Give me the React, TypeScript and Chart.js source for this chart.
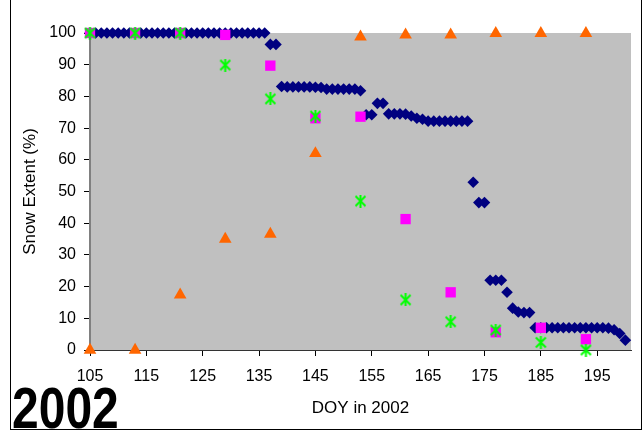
import React, { useEffect, useRef } from 'react';
import { Chart, registerables } from 'chart.js';

Chart.register(...registerables);

// ---- Data ----
const dailyDays = [
  105, 106, 107, 108, 109, 110, 111, 112, 113, 114, 115, 116, 117, 118, 119, 120,
  121, 122, 123, 124, 125, 126, 127, 128, 129, 130, 131, 132, 133, 134, 135, 136,
  137, 138, 139, 140, 141, 142, 143, 144, 145, 146, 147, 148, 149, 150, 151, 152,
  153, 154, 155, 156, 157, 158, 159, 160, 161, 162, 163, 164, 165, 166, 167, 168,
  169, 170, 171, 172, 173, 174, 175, 176, 177, 178, 179, 180, 181, 182, 183, 184,
  185, 186, 187, 188, 189, 190, 191, 192, 193, 194, 195, 196, 197, 198, 199, 200,
];
const dailyExtent = [
  100, 100, 100, 100, 100, 100, 100, 100, 100, 100, 100, 100, 100, 100, 100, 100,
  100, 100, 100, 100, 100, 100, 100, 100, 100, 100, 100, 100, 100, 100, 100, 100,
  96.4, 96.4, 83.1, 83, 83, 83, 83, 83, 82.9, 82.8, 82.3, 82.3, 82.3, 82.3, 82.3, 82.3,
  81.8, 74.2, 74.2, 77.8, 77.8, 74.5, 74.5, 74.5, 74.4, 73.8, 73.1, 72.8, 72.2, 72.2, 72.2, 72.2,
  72.2, 72.2, 72.2, 72.2, 52.9, 46.5, 46.5, 22, 22, 22, 18.2, 13.2, 12, 11.8, 11.8, 7,
  7, 7, 7, 7, 7, 7, 7, 7, 7, 7, 7, 7, 6.9, 6.4, 5.2, 3.1,
];

const sampleDays = [105, 113, 121, 129, 137, 145, 153, 161, 169, 177, 185, 193];
const squareExtent = [100, 100, 100, 99.4, 89.7, 73.1, 73.6, 41.3, 18.2, 5.6, 7.0, 3.4];
const asteriskExtent = [100, 100, 100, 89.9, 79.2, 73.8, 47.0, 15.8, 8.9, 6.3, 2.4, 0];
const triangleExtent = [0, 0, 17.4, 35, 36.6, 62, 98.8, 99.4, 99.4, 99.9, 99.9, 99.9];

const xTickValues = [105, 115, 125, 135, 145, 155, 165, 175, 185, 195];
const xMin = 105;
const xMax = 201;
const yMin = 0;
const yMax = 100;

const FONT = 'Liberation Sans, Arial, sans-serif';

function makeAsterisk(): HTMLCanvasElement {
  const c = document.createElement('canvas');
  c.width = 13;
  c.height = 13;
  const g = c.getContext('2d')!;
  g.strokeStyle = '#00FF00';
  g.lineWidth = 2;
  g.beginPath();
  g.moveTo(1.5, 1.5);
  g.lineTo(11.5, 11.5);
  g.moveTo(11.5, 1.5);
  g.lineTo(1.5, 11.5);
  g.moveTo(6.5, 0);
  g.lineTo(6.5, 13);
  g.stroke();
  return c;
}

const plotBg = {
  id: 'plotBg',
  beforeDraw(chart: any) {
    const { ctx, chartArea: a } = chart;
    ctx.save();
    ctx.fillStyle = '#C0C0C0';
    ctx.fillRect(a.left, a.top, a.right - a.left, a.bottom - a.top);
    ctx.restore();
  },
};

function toPoints(xs: number[], ys: number[]) {
  return xs.map((x, i) => ({ x, y: ys[i] }));
}

export default function App() {
  const ref = useRef<HTMLCanvasElement | null>(null);

  useEffect(() => {
    if (!ref.current) return;
    const asterisk = makeAsterisk();
    const chart = new Chart(ref.current, {
      type: 'scatter',
      data: {
        datasets: [
          {
            label: 'asterisk',
            data: toPoints(sampleDays, asteriskExtent),
            pointStyle: asterisk as any,
            pointRadius: 6,
            clip: false as any,
          },
          {
            label: 'square',
            data: toPoints(sampleDays, squareExtent),
            pointStyle: 'rect',
            pointRadius: 7.3,
            backgroundColor: '#FF00FF',
            borderColor: '#FF00FF',
            borderWidth: 0,
            clip: false as any,
          },
          {
            label: 'triangle',
            data: toPoints(sampleDays, triangleExtent),
            pointStyle: 'triangle',
            pointRadius: 7.3,
            backgroundColor: '#FF6600',
            borderColor: '#FF6600',
            borderWidth: 0,
            clip: false as any,
          },
          {
            label: 'daily',
            data: toPoints(dailyDays, dailyExtent),
            pointStyle: 'rectRot',
            pointRadius: 5.8,
            backgroundColor: '#000080',
            borderColor: '#000080',
            borderWidth: 0,
            clip: false as any,
          },
        ],
      },
      options: {
        responsive: false,
        animation: false,
        events: [],
        layout: { padding: { left: 0, right: 13, top: 33, bottom: 0 } },
        plugins: {
          legend: { display: false },
          tooltip: { enabled: false },
        },
        scales: {
          x: {
            type: 'linear',
            min: xMin,
            max: xMax,
            afterBuildTicks: (s: any) => {
              s.ticks = xTickValues.map((v) => ({ value: v }));
            },
            afterFit: (s: any) => {
              s.height = 83;
            },
            grid: {
              drawOnChartArea: false,
              drawTicks: true,
              tickLength: 6,
              color: '#000',
              tickColor: '#000',
            },
            border: { display: true, color: '#333', width: 1 },
            ticks: {
              color: '#000',
              font: { family: FONT, size: 16 },
              padding: 11,
              maxRotation: 0,
              autoSkip: false,
            },
            title: {
              display: true,
              text: 'DOY in 2002',
              color: '#000',
              font: { family: FONT, size: 17 },
              padding: { top: 0, bottom: 14 },
            },
          },
          y: {
            min: yMin,
            max: yMax,
            afterFit: (s: any) => {
              s.width = 90;
            },
            grid: {
              drawOnChartArea: false,
              drawTicks: true,
              tickLength: 6,
              color: '#000',
              tickColor: '#000',
            },
            border: { display: true, color: '#808080', width: 2 },
            ticks: {
              stepSize: 10,
              color: '#000',
              font: { family: FONT, size: 16 },
              padding: 8,
            },
            title: {
              display: true,
              text: 'Snow Extent (%)',
              color: '#000',
              font: { family: FONT, size: 17 },
              padding: { top: 20, bottom: 0 },
            },
          },
        },
      },
      plugins: [plotBg],
    } as any);
    return () => chart.destroy();
  }, []);

  return (
    <div style={{ position: 'absolute', left: 0, top: 0, width: 644, height: 433, overflow: 'hidden', background: '#fff' }}>
      <canvas
        ref={ref}
        width={644}
        height={433}
        style={{ position: 'absolute', left: 0, top: 0, display: 'block' }}
      />
      <div
        style={{
          position: 'absolute',
          left: 10,
          top: -1,
          width: 632,
          height: 431,
          border: '1px solid #000',
          boxSizing: 'border-box',
          pointerEvents: 'none',
        }}
      />
      <div
        style={{
          position: 'absolute',
          left: 12,
          top: 389,
          fontFamily: FONT,
          fontWeight: 'bold',
          fontSize: 48,
          lineHeight: '48px',
          color: '#000',
          transform: 'scaleY(1.18)',
          transformOrigin: 'left bottom',
          whiteSpace: 'nowrap',
        }}
      >
        2002
      </div>
    </div>
  );
}
